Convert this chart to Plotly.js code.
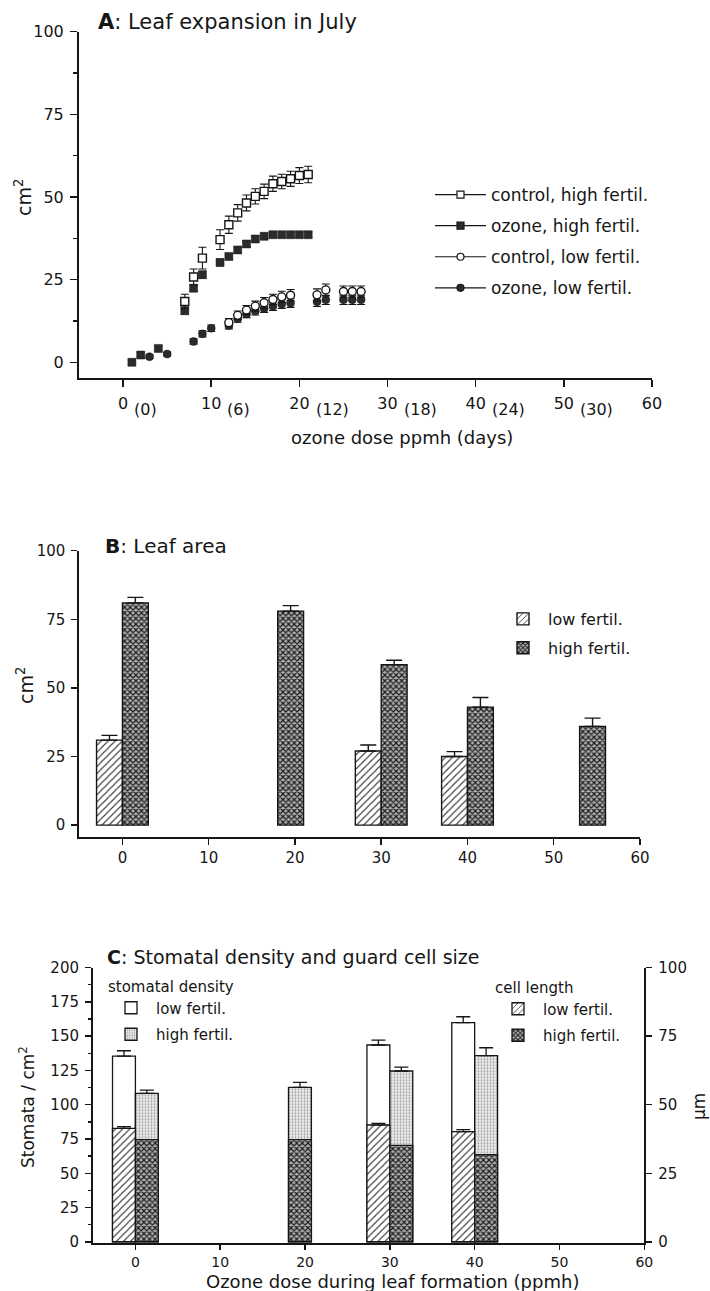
<!DOCTYPE html>
<html>
<head>
<meta charset="utf-8">
<script src="https://cdn.plot.ly/plotly-3.0.1.min.js"></script>
<style>
html,body{margin:0;padding:0;background:#fff;}
#chart{width:710px;height:1291px;}
</style>
</head>
<body>
<div id="chart"></div>
<script>
// ================= DATA =================
// Panel A: leaf expansion in July (x = ozone dose ppmh, y = cm2)
const aDoseTicks = [0, 10, 20, 30, 40, 50, 60];
const aDayTicks = ['(0)', '(6)', '(12)', '(18)', '(24)', '(30)', ''];
const aLegendNames = ['control, high fertil.', 'ozone, high fertil.', 'control, low fertil.', 'ozone, low fertil.'];

const ctrlHighX = [7, 8, 9, 11, 12, 13, 14, 15, 16, 17, 18, 19, 20, 21];
const ctrlHighY = [18.4, 25.8, 31.5, 37.1, 41.6, 45.2, 48.2, 50.2, 51.7, 54.0, 54.7, 55.5, 56.5, 56.8];
const ctrlHighErr = [2.2, 2.4, 3.3, 3.0, 2.6, 2.5, 2.4, 2.3, 2.2, 2.3, 2.2, 2.3, 2.4, 2.5];

const ozHighX = [1, 2, 4, 7, 8, 9, 11, 12, 13, 14, 15, 16, 17, 18, 19, 20, 21];
const ozHighY = [0.0, 2.2, 4.2, 15.6, 22.4, 26.5, 30.2, 32.0, 34.0, 35.8, 37.3, 38.1, 38.6, 38.6, 38.6, 38.6, 38.6];
const ozHighErr = [0.6, 0.6, 0.7, 1.0, 1.0, 1.0, 1.0, 0.9, 0.9, 0.9, 0.8, 0.8, 0.8, 0.8, 0.8, 0.8, 0.8];

const ctrlLowX = [12, 13, 14, 15, 16, 17, 18, 19, 22, 23, 25, 26, 27];
const ctrlLowY = [12.0, 14.2, 15.8, 17.0, 18.0, 19.0, 19.8, 20.3, 20.4, 21.9, 21.4, 21.4, 21.4];
const ctrlLowErr = [1.2, 1.3, 1.4, 1.5, 1.6, 1.6, 1.7, 1.7, 1.8, 1.8, 1.7, 1.7, 1.7];

const ozLowX = [3, 5, 8, 9, 10, 12, 13, 14, 15, 16, 17, 18, 19, 22, 23, 25, 26, 27];
const ozLowY = [1.7, 2.5, 6.3, 8.6, 10.3, 11.1, 13.2, 14.6, 15.5, 16.3, 17.0, 17.6, 17.9, 18.3, 18.9, 18.9, 18.9, 18.9];
const ozLowErr = [0.5, 0.5, 0.8, 0.9, 1.0, 1.0, 1.1, 1.1, 1.2, 1.2, 1.3, 1.3, 1.3, 1.4, 1.4, 1.4, 1.4, 1.4];

// Panel B: leaf area (cm2)
const bTicks = [0, 10, 20, 30, 40, 50, 60];
const bLowDose = [0, 30, 40];
const bLowArea = [31, 27, 25];
const bLowErr = [1.7, 2.2, 1.8];
const bHighDose = [0, 19.5, 30, 40, 54.5];
const bHighArea = [81, 78, 58.5, 43, 36];
const bHighErr = [2.0, 2.0, 1.6, 3.5, 3.0];

// Panel C: stomatal density (left axis) and guard cell length (right axis, um)
const cTicks = [0, 10, 20, 30, 40, 50, 60];
const cLowDose = [0, 30, 40];
const cHighDose = [0, 19.4, 30, 40];
const densLow = [135.5, 143.6, 159.9];
const densLowErr = [3.9, 3.6, 4.3];
const densHigh = [108.3, 112.7, 124.6, 135.8];
const densHighErr = [2.4, 3.6, 2.9, 5.8];
const cellLow = [41.4, 42.6, 40.2];
const cellLowErr = [0.6, 0.6, 0.7];
const cellHigh = [37.3, 37.3, 35.2, 31.8];

// ================= HELPERS =================
const W = 710, H = 1291;
const px = v => v / W;
const py = v => 1 - v / H;
const FONT = 'DejaVu Sans, Arial, sans-serif';
const INK = '#161616';
const zeros = a => a.map(() => 0);
// paired bars sit side by side at the dose; lone bars are centred
const pairOffset = (doses, partner, w, own) => doses.map(d => partner.includes(d) ? own : -w / 2);

const HATCH = {shape: '/', size: 5, solidity: 0.22, fgcolor: '#3a3a3a', bgcolor: '#ffffff'};
const CHECK = {shape: 'x', size: 4, solidity: 0.5, fgcolor: '#1a1a1a', bgcolor: '#b0b0b0'};
const STIPPLE = {shape: '.', size: 3, solidity: 0.3, fgcolor: '#9a9a9a', bgcolor: '#ededed'};

// ================= TRACES =================
const traces = [];

function aPoints(x, y, err, symbol, filled) {
  return {
    type: 'scatter', mode: 'markers', x: x, y: y, xaxis: 'x', yaxis: 'y', showlegend: false,
    marker: {symbol: symbol, size: 8, color: filled ? '#2b2b2b' : '#ffffff', line: {color: INK, width: filled ? 0.5 : 1.4}},
    error_y: {type: 'data', array: err, visible: true, color: INK, thickness: 1.1, width: 4}
  };
}
traces.push(aPoints(ozLowX, ozLowY, ozLowErr, 'circle', true));
traces.push(aPoints(ozHighX, ozHighY, ozHighErr, 'square', true));
traces.push(aPoints(ctrlLowX, ctrlLowY, ctrlLowErr, 'circle', false));
traces.push(aPoints(ctrlHighX, ctrlHighY, ctrlHighErr, 'square', false));

// legend entries for panel A (line + marker keys)
const aKeySymbols = ['square', 'square', 'circle', 'circle'];
const aKeyFilled = [false, true, false, true];
aLegendNames.forEach((nm, i) => {
  traces.push({
    type: 'scatter', mode: 'lines+markers', x: [null], y: [null], xaxis: 'x', yaxis: 'y',
    name: nm, legend: 'legend', legendgroup: 'a' + i,
    line: {color: INK, width: 1.2},
    marker: {symbol: aKeySymbols[i], size: 7, color: aKeyFilled[i] ? '#2b2b2b' : '#ffffff', line: {color: INK, width: 1.2}}
  });
});

// Panel B bars
traces.push({
  type: 'bar', name: 'low fertil.', x: bLowDose, y: bLowArea, xaxis: 'x2', yaxis: 'y2',
  width: 3, offset: pairOffset(bLowDose, bHighDose, 3, -3),
  legend: 'legend2', legendgroup: 'b0',
  marker: {color: '#ffffff', pattern: HATCH, line: {color: INK, width: 1.4}},
  error_y: {type: 'data', symmetric: false, array: bLowErr, arrayminus: zeros(bLowErr), color: INK, thickness: 1.4, width: 8}
});
traces.push({
  type: 'bar', name: 'high fertil.', x: bHighDose, y: bHighArea, xaxis: 'x2', yaxis: 'y2',
  width: 3, offset: pairOffset(bHighDose, bLowDose, 3, 0),
  legend: 'legend2', legendgroup: 'b1',
  marker: {color: '#b0b0b0', pattern: CHECK, line: {color: INK, width: 1.4}},
  error_y: {type: 'data', symmetric: false, array: bHighErr, arrayminus: zeros(bHighErr), color: INK, thickness: 1.4, width: 8}
});

// Panel C bars: stomatal density (y3)
const CW = 2.7;
traces.push({
  type: 'bar', name: 'low fertil.', x: cLowDose, y: densLow, xaxis: 'x3', yaxis: 'y3',
  width: CW, offset: pairOffset(cLowDose, cHighDose, CW, -CW),
  legend: 'legend3', legendgroup: 'c0',
  marker: {color: '#ffffff', line: {color: INK, width: 1.3}},
  error_y: {type: 'data', symmetric: false, array: densLowErr, arrayminus: zeros(densLowErr), color: INK, thickness: 1.3, width: 7}
});
traces.push({
  type: 'bar', name: 'high fertil.', x: cHighDose, y: densHigh, xaxis: 'x3', yaxis: 'y3',
  width: CW, offset: pairOffset(cHighDose, cLowDose, CW, 0),
  legend: 'legend3', legendgroup: 'c1',
  marker: {color: '#ededed', pattern: STIPPLE, line: {color: INK, width: 1.3}},
  error_y: {type: 'data', symmetric: false, array: densHighErr, arrayminus: zeros(densHighErr), color: INK, thickness: 1.3, width: 7}
});
// Panel C bars: guard cell length (y4, right axis)
traces.push({
  type: 'bar', name: 'low fertil.', x: cLowDose, y: cellLow, xaxis: 'x3', yaxis: 'y4',
  width: CW, offset: pairOffset(cLowDose, cHighDose, CW, -CW),
  legend: 'legend4', legendgroup: 'd0',
  marker: {color: '#ffffff', pattern: HATCH, line: {color: INK, width: 1.3}},
  error_y: {type: 'data', symmetric: false, array: cellLowErr, arrayminus: zeros(cellLowErr), color: INK, thickness: 1.2, width: 7}
});
traces.push({
  type: 'bar', name: 'high fertil.', x: cHighDose, y: cellHigh, xaxis: 'x3', yaxis: 'y4',
  width: CW, offset: pairOffset(cHighDose, cLowDose, CW, 0),
  legend: 'legend4', legendgroup: 'd1',
  marker: {color: '#b0b0b0', pattern: CHECK, line: {color: INK, width: 1.3}}
});

// ================= LAYOUT =================
const axisBase = {
  showline: true, linecolor: INK, linewidth: 2, ticks: 'outside', tickcolor: INK, tickwidth: 1.5,
  ticklen: 7, showgrid: false, zeroline: false, fixedrange: true, tickmode: 'array'
};
const ann = [];
function label(text, xp, yp, size, extra) {
  ann.push(Object.assign({text: text, xref: 'paper', yref: 'paper', x: px(xp), y: py(yp),
    xanchor: 'center', yanchor: 'middle', showarrow: false, font: {family: FONT, size: size, color: INK}}, extra || {}));
}
label('<b>A</b>: Leaf expansion in July', 96, 22, 21, {xanchor: 'left'});
label('cm<sup>2</sup>', 23, 198, 19, {textangle: -90});
label('ozone dose ppmh (days)', 402, 437, 18);
label('<b>B</b>: Leaf area', 103, 546, 20, {xanchor: 'left'});
label('cm<sup>2</sup>', 25, 686, 19, {textangle: -90});
label('<b>C</b>: Stomatal density and guard cell size', 105, 957, 19, {xanchor: 'left'});
label('Stomata / cm<sup>2</sup>', 27, 1107, 17, {textangle: -90});
label('µm', 699, 1107, 17, {textangle: -90});
label('Ozone dose during leaf formation (ppmh)', 392, 1281, 18);

// day labels hanging to the right of the panel A dose ticks
aDoseTicks.forEach((d, i) => {
  if (!aDayTicks[i]) return;
  ann.push({text: aDayTicks[i], xref: 'x', yref: 'paper', x: d, y: py(409),
    xanchor: 'left', yanchor: 'middle', xshift: String(d).length * 0.318 * 16 + 4,
    showarrow: false, font: {family: FONT, size: 16, color: INK}});
});

const layout = {
  width: W, height: H, margin: {l: 0, r: 0, t: 0, b: 0},
  paper_bgcolor: '#ffffff', plot_bgcolor: 'rgba(0,0,0,0)',
  font: {family: FONT, color: INK},
  barmode: 'overlay', showlegend: true,
  annotations: ann,
  xaxis: Object.assign({}, axisBase, {domain: [px(79), px(652)], anchor: 'y', range: [-5, 60],
    tickvals: aDoseTicks, ticktext: aDoseTicks.map(String), ticklabelstandoff: 2,
    tickfont: {family: FONT, size: 16, color: INK}}),
  yaxis: Object.assign({}, axisBase, {domain: [py(378.3), py(31.7)], anchor: 'x', range: [-4.84, 100],
    tickvals: [0, 25, 50, 75, 100], ticktext: ['0', '25', '50', '75', '100'], ticklabelstandoff: 3,
    minor: {tickmode: 'linear', tick0: 0, dtick: 12.5, ticks: 'outside', ticklen: 4, tickwidth: 1.5, tickcolor: INK},
    tickfont: {family: FONT, size: 16, color: INK}}),
  xaxis2: Object.assign({}, axisBase, {domain: [px(79.3), px(640)], anchor: 'y2', range: [-5, 60],
    tickvals: bTicks, ticktext: bTicks.map(String), ticklen: 6,
    tickfont: {family: FONT, size: 15, color: INK}}),
  yaxis2: Object.assign({}, axisBase, {domain: [py(836.7), py(550.7)], anchor: 'x2', range: [-4.2, 100],
    tickvals: [0, 25, 50, 75, 100], ticktext: ['0', '25', '50', '75', '100'], ticklen: 6, ticklabelstandoff: 3,
    tickfont: {family: FONT, size: 15, color: INK}}),
  xaxis3: Object.assign({}, axisBase, {domain: [px(93), px(644.3)], anchor: 'y3', range: [-5, 60],
    tickvals: cTicks, ticktext: cTicks.map(String), ticklen: 5, ticklabelstandoff: 0,
    tickfont: {family: FONT, size: 14, color: INK}}),
  yaxis3: Object.assign({}, axisBase, {domain: [py(1243), py(967.7)], anchor: 'x3', range: [-0.9, 200],
    tickvals: [0, 25, 50, 75, 100, 125, 150, 175, 200],
    ticktext: ['0', '25', '50', '75', '100', '125', '150', '175', '200'], ticklen: 6, ticklabelstandoff: 3,
    minor: {tickmode: 'linear', tick0: 0, dtick: 12.5, ticks: 'outside', ticklen: 3, tickwidth: 1.3, tickcolor: INK},
    tickfont: {family: FONT, size: 15, color: INK}}),
  yaxis4: Object.assign({}, axisBase, {overlaying: 'y3', side: 'right', anchor: 'x3', range: [-0.45, 100],
    tickvals: [0, 25, 50, 75, 100], ticktext: ['0', '25', '50', '75', '100'], ticklen: 6, ticklabelstandoff: 3,
    tickfont: {family: FONT, size: 15, color: INK}}),
  legend: {x: px(430), y: py(177), xanchor: 'left', yanchor: 'top', bgcolor: 'rgba(0,0,0,0)',
    font: {family: FONT, size: 17, color: INK}, itemwidth: 51, traceorder: 'grouped', tracegroupgap: 6},
  legend2: {x: px(498), y: py(602), xanchor: 'left', yanchor: 'top', bgcolor: 'rgba(0,0,0,0)',
    font: {family: FONT, size: 16, color: INK}, itemwidth: 40, traceorder: 'grouped', tracegroupgap: 5},
  legend3: {x: px(106), y: py(972), xanchor: 'left', yanchor: 'top', bgcolor: 'rgba(0,0,0,0)',
    title: {text: 'stomatal density', font: {family: FONT, size: 15, color: INK}},
    font: {family: FONT, size: 15, color: INK}, itemwidth: 40, traceorder: 'grouped', tracegroupgap: 4},
  legend4: {x: px(493), y: py(973), xanchor: 'left', yanchor: 'top', bgcolor: 'rgba(0,0,0,0)',
    title: {text: 'cell length', font: {family: FONT, size: 15, color: INK}},
    font: {family: FONT, size: 15, color: INK}, itemwidth: 40, traceorder: 'grouped', tracegroupgap: 4}
};

Plotly.newPlot('chart', traces, layout, {displayModeBar: false, staticPlot: true});
</script>
</body>
</html>
